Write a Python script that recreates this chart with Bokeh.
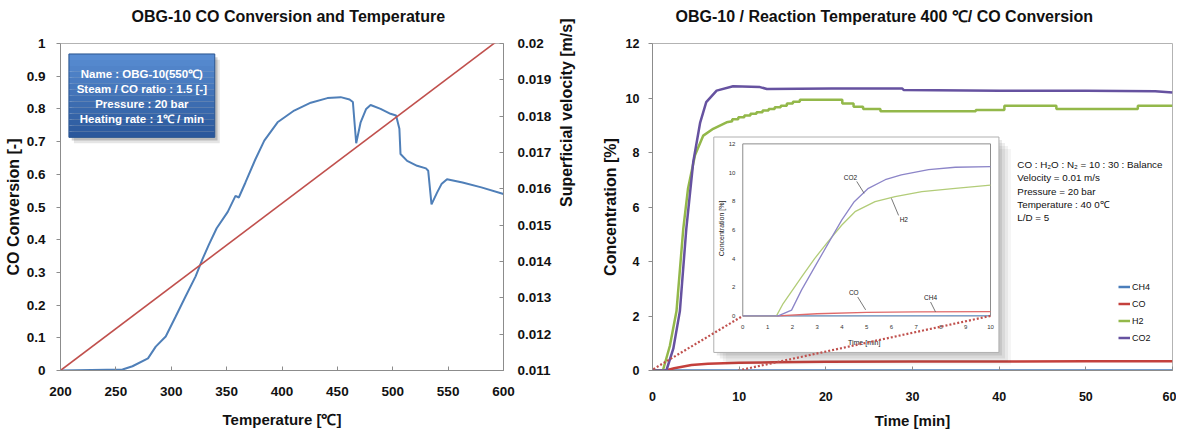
import math
import numpy as np
from bokeh.plotting import figure
from bokeh.models import Range1d, LinearAxis, FixedTicker, Legend, LegendItem
from bokeh.layouts import row
from bokeh.embed import file_html
from bokeh.resources import INLINE
from bokeh.core.properties import value

# ---------------- data : left chart ----------------
temp_c = [200, 256, 265, 279, 286, 295, 304, 313, 322, 328, 334, 341, 351, 358, 361, 367,
          376, 384, 396, 411, 426, 441, 453, 461, 464, 467, 471, 476, 480, 489, 498, 503,
          506, 507, 513, 522, 530, 532, 535, 540, 544, 549, 563, 580, 600]
co_conversion = [0, 0.003, 0.013, 0.037, 0.073, 0.104, 0.165, 0.227, 0.288, 0.339, 0.385,
                 0.435, 0.485, 0.534, 0.529, 0.575, 0.646, 0.703, 0.759, 0.795, 0.819,
                 0.833, 0.836, 0.829, 0.821, 0.695, 0.759, 0.80, 0.812, 0.80, 0.785, 0.78,
                 0.739, 0.662, 0.641, 0.626, 0.618, 0.611, 0.508, 0.544, 0.57, 0.585,
                 0.575, 0.56, 0.54]
vel_temp = [200, 600]
superficial_velocity = [0.011, 0.0202]
left_x_ticks = [200, 250, 300, 350, 400, 450, 500, 550, 600]
left_y_ticks = [0, 0.1, 0.2, 0.3, 0.4, 0.5, 0.6, 0.7, 0.8, 0.9, 1]
left_y_labels = ["0", "0.1", "0.2", "0.3", "0.4", "0.5", "0.6", "0.7", "0.8", "0.9", "1"]
vel_ticks = [0.011, 0.012, 0.013, 0.014, 0.015, 0.016, 0.017, 0.018, 0.019, 0.02]
vel_labels = ["0.011", "0.012", "0.013", "0.014", "0.015", "0.016", "0.017", "0.018", "0.019", "0.02"]
box_lines = ["Name : OBG-10(550\u2103)", "Steam / CO ratio : 1.5 [-]",
             "Pressure : 20 bar", "Heating rate : 1\u2103 / min"]

# ---------------- data : right chart ----------------
co2_t = [0, 1.6, 2.4, 3.16, 3.9, 4.7, 5.5, 6.2, 7.4, 9.3, 12.4, 13.2, 20.7, 28.8, 29.0,
         40.0, 50.0, 58.0, 60.0]
co2_c = [0, 0, 0.8, 2.18, 5.2, 7.65, 9.1, 9.85, 10.27, 10.43, 10.4, 10.33, 10.35, 10.35,
         10.29, 10.27, 10.27, 10.25, 10.2]
h2_t = [0, 1.2, 2.0, 2.77, 3.55, 4.1, 4.9, 5.86, 7.0, 8.55, 9.2, 9.2, 9.9, 9.9, 10.6, 10.6,
        11.3, 11.3, 12.0, 12.0, 12.7, 12.7, 13.4, 13.4, 14.1, 14.1, 14.8, 14.8, 15.5, 15.5,
        16.2, 16.2, 17.0, 17.0, 21.9, 21.9, 23.2, 23.2, 24.3, 24.3, 26.3, 26.3, 37.3, 37.3,
        40.6, 40.6, 46.6, 46.6, 56.0, 56.0, 60.0]
h2_c = [0, 0, 0.9, 2.18, 5.2, 6.68, 7.9, 8.62, 8.87, 9.11, 9.15, 9.22, 9.22, 9.29, 9.29,
        9.36, 9.36, 9.42, 9.42, 9.48, 9.48, 9.54, 9.54, 9.6, 9.6, 9.66, 9.66, 9.72, 9.72,
        9.8, 9.8, 9.86, 9.86, 9.94, 9.94, 9.8, 9.8, 9.68, 9.68, 9.6, 9.6, 9.51, 9.51, 9.56,
        9.56, 9.72, 9.72, 9.6, 9.6, 9.72, 9.72]
co_t = [0, 1.5, 2.5, 4.5, 6.4, 10, 14.1, 20, 30, 40, 50, 60]
co_c = [0, 0, 0.08, 0.2, 0.25, 0.28, 0.3, 0.32, 0.33, 0.33, 0.34, 0.34]
ch4_t = [0, 60]
ch4_c = [0, 0]
right_x_ticks = [0, 10, 20, 30, 40, 50, 60]
right_y_ticks = [0, 2, 4, 6, 8, 10, 12]
conditions = ["CO : H\u2082O : N\u2082 = 10 : 30 : Balance", "Velocity = 0.01 m/s",
              "Pressure = 20 bar", "Temperature : 40 0\u2103", "L/D = 5"]

# ---------------- data : inset (first 10 min) ----------------
in_co2_t = [0, 1.43, 1.97, 2.37, 2.9, 3.45, 4.0, 4.5, 5.07, 5.75, 6.4, 7.5, 8.58, 10]
in_co2_c = [0, 0, 0.4, 1.8, 3.4, 5.06, 6.7, 7.97, 8.9, 9.5, 9.84, 10.2, 10.37, 10.42]
in_h2_t = [0, 1.36, 1.63, 2.37, 2.9, 3.45, 4.0, 4.53, 5.34, 6.15, 7.23, 8.58, 10]
in_h2_c = [0, 0, 0.86, 2.7, 4.0, 5.2, 6.34, 7.27, 7.97, 8.32, 8.67, 8.9, 9.13]
in_co_t = [0, 1.4, 3, 5, 7, 10]
in_co_c = [0, 0, 0.15, 0.25, 0.28, 0.3]
in_ch4_t = [0, 10]
in_ch4_c = [0, 0.02]
inset_x_ticks = [0, 1, 2, 3, 4, 5, 6, 7, 8, 9, 10]
inset_y_ticks = [0, 2, 4, 6, 8, 10, 12]
inset_notes = ["CO2", "H2", "CO", "CH4"]

SANS = "Liberation Sans"
INK = "#111111"

def style_title(p, text, offset):
    # blank second line lifts the title away from the frame
    p.title.text = text + "\n "
    p.title.align = "left"
    p.title.offset = offset
    p.title.standoff = 0
    p.title.text_font = SANS
    p.title.text_font_size = "16px"
    p.title.text_font_style = "bold"
    p.title.text_color = INK
    p.title.text_line_height = 1.1

# =============== LEFT FIGURE ===============
p1 = figure(width=592, height=438, x_range=Range1d(200, 600), y_range=Range1d(0, 1),
            output_backend="svg", toolbar_location=None,
            min_border_left=60, min_border_right=89, min_border_top=43, min_border_bottom=68)
p1.grid.visible = False
p1.outline_line_color = "#b3b3b3"
p1.extra_y_ranges = {"vel": Range1d(0.011, 0.02)}
style_title(p1, "OBG-10 CO Conversion and Temperature", 71)

xa = p1.xaxis[0]
xa.ticker = FixedTicker(ticks=left_x_ticks)
xa.axis_label = "Temperature [\u2103]"
ya = p1.yaxis[0]
ya.ticker = FixedTicker(ticks=left_y_ticks)
ya.major_label_overrides = dict(zip(left_y_ticks, left_y_labels))
ya.axis_label = "CO Conversion [-]"
va = LinearAxis(y_range_name="vel", ticker=FixedTicker(ticks=vel_ticks),
                axis_label="Superficial velocity [m/s]")
va.major_label_overrides = dict(zip(vel_ticks, vel_labels))
va.axis_label_orientation = math.pi / 2
p1.add_layout(va, "right")

for ax in (xa, ya, va):
    ax.axis_line_color = "#8c8c8c"
    ax.major_tick_line_color = "#8c8c8c"
    ax.minor_tick_line_color = None
    ax.major_label_text_font = SANS
    ax.major_label_text_font_style = "bold"
    ax.major_label_text_font_size = "13.5px"
    ax.major_label_text_color = INK
    ax.axis_label_text_font = SANS
    ax.axis_label_text_font_style = "bold"
    ax.axis_label_text_color = INK
    ax.axis_label_text_font_size = "16px"
xa.major_tick_in, xa.major_tick_out = 4, 0
xa.major_label_standoff = 16
xa.axis_label_text_font_size = "15px"
xa.axis_label_standoff = 12
ya.major_tick_in, ya.major_tick_out = 0, 4
ya.major_label_standoff = 11
ya.axis_label_standoff = 2
va.major_tick_in, va.major_tick_out = 4, 0
va.major_label_standoff = 14
va.axis_label_standoff = 12

p1.line(temp_c, co_conversion, line_color="#4f7fb8", line_width=2)
p1.line(vel_temp, superficial_velocity, y_range_name="vel", line_color="#c0504d", line_width=1.6)

# information box (gradient + shadow)
bx0, bx1, by0, by1 = 207.6, 339.3, 0.713, 0.968
p1.quad(left=bx0 + 4.5, right=bx1 + 4.5, bottom=by0 - 0.018, top=by1 - 0.018,
        fill_color="#000000", fill_alpha=0.10, line_color=None)
p1.quad(left=bx0 + 2.5, right=bx1 + 2.5, bottom=by0 - 0.010, top=by1 - 0.010,
        fill_color="#000000", fill_alpha=0.18, line_color=None)
nb = 14
top_rgb = np.array([0x58, 0x8c, 0xd2])
bot_rgb = np.array([0x2b, 0x58, 0x9c])
edges = np.linspace(by1, by0, nb + 1)
cols = []
for i in range(nb):
    c = top_rgb + (bot_rgb - top_rgb) * (i / (nb - 1))
    cols.append("#%02x%02x%02x" % tuple(int(v) for v in c))
p1.quad(left=[bx0] * nb, right=[bx1] * nb, top=list(edges[:-1]), bottom=list(edges[1:]),
        fill_color=cols, line_color=None)
p1.quad(left=bx0, right=bx1, bottom=by0, top=by1, fill_color=None,
        line_color="#2a5590", line_width=1)
line_y = [0.907 - i * 0.046 for i in range(len(box_lines))]
p1.text(x=[(bx0 + bx1) / 2] * len(box_lines), y=line_y, text=box_lines,
        text_align="center", text_baseline="middle", text_color="white",
        text_font=value(SANS), text_font_style="bold", text_font_size="11.5px")

# =============== RIGHT FIGURE ===============
p2 = figure(width=584, height=438, x_range=Range1d(0, 60), y_range=Range1d(0, 12),
            output_backend="svg", toolbar_location=None,
            min_border_left=60, min_border_right=4, min_border_top=43, min_border_bottom=68)
p2.grid.visible = False
p2.outline_line_color = "#b3b3b3"
style_title(p2, "OBG-10 / Reaction Temperature 400 \u2103/  CO Conversion", 23)

# inset placed as fractions of main frame
fx0, fx1, fy0, fy1 = 0.1736, 0.650, 0.167, 0.693
iw = 10 / (fx1 - fx0)
ih = 12 / (fy1 - fy0)
ixs, iys = -fx0 * iw, -fy0 * ih
p2.extra_x_ranges = {"ix": Range1d(ixs, ixs + iw)}
p2.extra_y_ranges = {"iy": Range1d(iys, iys + ih)}

def main_to_inset(mx, my):
    return ixs + mx / 60 * iw, iys + my / 12 * ih

xb = p2.xaxis[0]
xb.ticker = FixedTicker(ticks=right_x_ticks)
xb.axis_label = "Time [min]"
yb = p2.yaxis[0]
yb.ticker = FixedTicker(ticks=right_y_ticks)
yb.axis_label = "Concentration [%]"
for ax in (xb, yb):
    ax.axis_line_color = "#8c8c8c"
    ax.major_tick_line_color = "#8c8c8c"
    ax.minor_tick_line_color = None
    ax.major_label_text_font = SANS
    ax.major_label_text_font_style = "bold"
    ax.major_label_text_font_size = "12.5px"
    ax.major_label_text_color = INK
    ax.axis_label_text_font = SANS
    ax.axis_label_text_font_style = "bold"
    ax.axis_label_text_color = INK
    ax.axis_label_text_font_size = "16px"
xb.major_tick_in, xb.major_tick_out = 4, 0
xb.major_label_standoff = 21
xb.axis_label_text_font_size = "15px"
xb.axis_label_standoff = 8
yb.major_tick_in, yb.major_tick_out = 0, 4
yb.major_label_standoff = 9
yb.axis_label_standoff = 4

r_ch4 = p2.line(ch4_t, ch4_c, line_color="#4a7ebb", line_width=2.5)
r_co = p2.line(co_t, co_c, line_color="#c4403c", line_width=2.5)
r_h2 = p2.line(h2_t, h2_c, line_color="#93b84a", line_width=2.5)
r_co2 = p2.line(co2_t, co2_c, line_color="#6652a0", line_width=2.5)

# inset box with shadow
kw = dict(x_range_name="ix", y_range_name="iy")
px_x = iw / 517.0
px_y = ih / 327.0
L, R, B, T = -1.17, 10.34, -2.55, 12.48
for k, a in [(12, 0.05), (9, 0.07), (6, 0.09), (3, 0.12)]:
    p2.quad(left=L + k * px_x, right=R + k * px_x, bottom=B - k * px_y, top=T - k * px_y,
            fill_color="#404040", fill_alpha=a, line_color=None, **kw)
p2.quad(left=L, right=R, bottom=B, top=T, fill_color="white", line_color="#b0b0b0",
        line_width=1, **kw)
p2.quad(left=0, right=10, bottom=0, top=12, fill_color=None, line_color="#8c8c8c",
        line_width=1, **kw)

p2.line(in_ch4_t, in_ch4_c, line_color="#7ea3cf", line_width=1.3, **kw)
p2.line(in_co_t, in_co_c, line_color="#e06a6a", line_width=1.3, **kw)
p2.line(in_h2_t, in_h2_c, line_color="#b2cc78", line_width=1.3, **kw)
p2.line(in_co2_t, in_co2_c, line_color="#8c85c8", line_width=1.3, **kw)

p2.text(x=inset_x_ticks, y=[-0.75] * len(inset_x_ticks), text=[str(t) for t in inset_x_ticks],
        text_align="center", text_baseline="middle", text_font=value(SANS),
        text_font_size="6px", text_color="#333333", **kw)
p2.text(x=[-0.3] * len(inset_y_ticks), y=inset_y_ticks, text=[str(t) for t in inset_y_ticks],
        text_align="right", text_baseline="middle", text_font=value(SANS),
        text_font_size="6px", text_color="#333333", **kw)
p2.text(x=[4.9], y=[-1.85], text=["Time [min]"], text_align="center", text_baseline="middle",
        text_font=value(SANS), text_font_size="7px", text_color="#222222", **kw)
p2.text(x=[-0.85], y=[6.1], text=["Concentration [%]"], angle=np.pi / 2,
        text_align="center", text_baseline="middle", text_font=value(SANS),
        text_font_size="7px", text_color="#222222", **kw)
# inset curve labels with leader lines
note_x = [4.35, 6.5, 4.48, 7.58]
note_y = [9.65, 6.74, 1.6, 1.25]
lead_x0 = [4.6, 6.29, 4.64, 7.58]
lead_y0 = [9.38, 7.01, 1.32, 0.97]
lead_x1 = [4.9, 6.0, 4.96, 7.78]
lead_y1 = [8.55, 8.2, 0.42, 0.28]
p2.segment(lead_x0, lead_y0, lead_x1, lead_y1, line_color="#555555", line_width=0.8, **kw)
p2.text(x=note_x, y=note_y, text=inset_notes, text_align="center", text_baseline="middle",
        text_font=value(SANS), text_font_size="6.5px", text_color="#222222", **kw)

# dotted zoom connectors
a0 = main_to_inset(0.1, 0.05)
a1 = main_to_inset(9.9, 0.0)
p2.segment(x0=[a0[0], a1[0]], y0=[a0[1], a1[1]], x1=[0, 10], y1=[0, 0],
           line_color="#c0504d", line_width=2.2, line_dash="2 2", **kw)

# conditions text
cy = [7.55 - i * 0.485 for i in range(len(conditions))]
p2.text(x=[42.1] * len(conditions), y=cy, text=conditions, text_align="left",
        text_baseline="middle", text_font=value(SANS), text_font_size="9.8px",
        text_color=INK)

legend = Legend(items=[LegendItem(label="CH4", renderers=[r_ch4]),
                       LegendItem(label="CO", renderers=[r_co]),
                       LegendItem(label="H2", renderers=[r_h2]),
                       LegendItem(label="CO2", renderers=[r_co2])],
                location=(466, 24), glyph_width=12, glyph_height=17, label_height=17,
                label_standoff=2, spacing=0, padding=0, margin=0,
                background_fill_alpha=0, border_line_alpha=0,
                label_text_font=SANS, label_text_font_size="9px",
                label_text_color=INK)
p2.add_layout(legend)

layout = row(p1, p2)
open("out.html", "w").write(file_html(layout, INLINE))
